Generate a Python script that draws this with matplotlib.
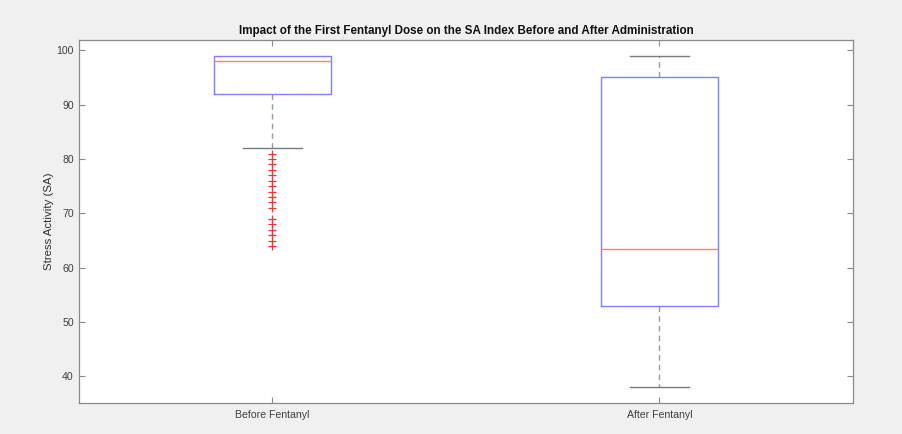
import matplotlib
matplotlib.use("Agg")
import matplotlib.pyplot as plt

# Group labels
groups = ["Before Fentanyl", "After Fentanyl"]

# Five-number summaries per group
whisker_low = [82, 38]
q1 = [92, 53]
median = [98, 63.5]
q3 = [99, 95]
whisker_high = [99, 99]

# Outlying observations per group
outliers_before = [81, 80, 79, 78, 77, 76, 75, 74, 73, 72, 71, 69, 68, 67, 66, 65, 64]
outliers_after = []

yticks = [40, 50, 60, 70, 80, 90, 100]

plt.rcParams["font.family"] = ["Liberation Sans", "DejaVu Sans"]

fig = plt.figure(figsize=(9.03, 4.34), dpi=100, facecolor="#f0f0f0")
ax = fig.add_axes([79 / 903, 1 - 403 / 434, (853 - 79) / 903, (403 - 40) / 434])
ax.set_facecolor("white")

stats = []
for i, name in enumerate(groups):
    stats.append({
        "label": name,
        "whislo": whisker_low[i],
        "q1": q1[i],
        "med": median[i],
        "q3": q3[i],
        "whishi": whisker_high[i],
        "fliers": [outliers_before, outliers_after][i],
    })

parts = ax.bxp(
    stats,
    positions=[1, 2],
    widths=0.3,
    showfliers=True,
    boxprops=dict(color="#7f7fff", linewidth=1.0, zorder=4),
    medianprops=dict(color="#ff7f7f", linewidth=1.0, zorder=5),
    whiskerprops=dict(color="#9a9a9a", linewidth=1.0, linestyle=(0, (4, 3)), zorder=2),
    capprops=dict(color="#7a7a7a", linewidth=1.0, zorder=2),
    capwidths=0.15,
    flierprops=dict(marker="+", markeredgecolor="#ff3030", markersize=5.5,
                    markeredgewidth=0.9, linestyle="none"),
)

# A cap sitting exactly on the box edge is hidden by the box itself
for i, s in enumerate(stats):
    if s["whishi"] == s["q3"]:
        parts["caps"][2 * i + 1].set_visible(False)
    if s["whislo"] == s["q1"]:
        parts["caps"][2 * i].set_visible(False)

ax.set_xlim(0.5, 2.5)
ax.set_ylim(35.1, 101.9)
ax.set_yticks(yticks)
ax.set_xticks([1, 2])
ax.set_xticklabels(groups)

for side in ax.spines.values():
    side.set_color("#8a8a8a")
    side.set_linewidth(0.9)

ax.tick_params(direction="in", length=4, width=0.8, color="#8a8a8a",
               labelcolor="#404040", labelsize=7.6,
               top=True, right=True)
ax.tick_params(axis="x", pad=5)
ax.tick_params(axis="y", pad=3.8)

ax.set_ylabel("Stress Activity (SA)", fontsize=8.2, color="#303030", labelpad=1.5)
ax.set_title("Impact of the First Fentanyl Dose on the SA Index Before and After Administration",
             fontsize=8.4, fontweight="bold", color="#111111", pad=4)

fig.savefig("out.png", dpi=100, facecolor=fig.get_facecolor())
